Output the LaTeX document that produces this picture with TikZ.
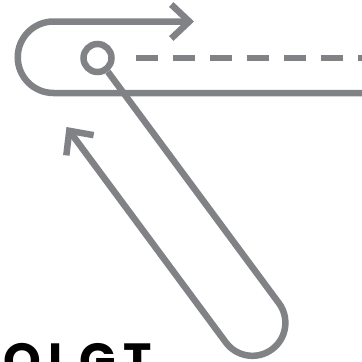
\documentclass[tikz,border=0pt]{standalone}
\usepackage{fontspec}
\setmainfont{Poppins}
\usetikzlibrary{arrows.meta, calc}
\definecolor{iconGray}{RGB}{128,130,133}

\begin{document}
\begin{tikzpicture}[
    x=1pt, y=1pt,
    stroke/.style={draw=iconGray, line width=6.5pt},
    barb/.style={-{Straight Barb[sharp, length=18pt, width=34pt]}},
    dashline/.style={stroke, dash pattern=on 22pt off 15pt},
    brand/.style={font=\fontsize{48}{48}\selectfont\bfseries\addfontfeature{LetterSpace=16}, text=black, inner sep=0pt, anchor=base west}
]
\useasboundingbox (0,0) rectangle (362,-362);

% Pin on the track
\node[stroke, circle, minimum size=28pt, inner sep=0pt] (pin) at (97.5,-58) {};

% Dashed guide to the right
\coordinate (dashEnd) at (370,-58);
\draw[dashline] ([xshift=21pt]pin.east) -- (dashEnd);

% Upper loop with arrow
\coordinate (loopEnd) at (370,-93);
\coordinate (loopTip) at (194,-21.5);
\draw[stroke, barb] (loopEnd) -- (53.5,-93) arc[start angle=-90, end angle=-270, radius=35.75] -- (loopTip);

% Long loop down and back
\coordinate (bendA) at ($(pin)+(-53.5:305)$);
\draw[stroke, barb] (pin.-53.5) -- (bendA) arc[start angle=36.5, end angle=-143.5, radius=33] -- ++(126.5:268) coordinate (backTip);

% Brand text
\node[brand] (brand) at (3,-377) {OLGT};

\end{tikzpicture}
\end{document}
